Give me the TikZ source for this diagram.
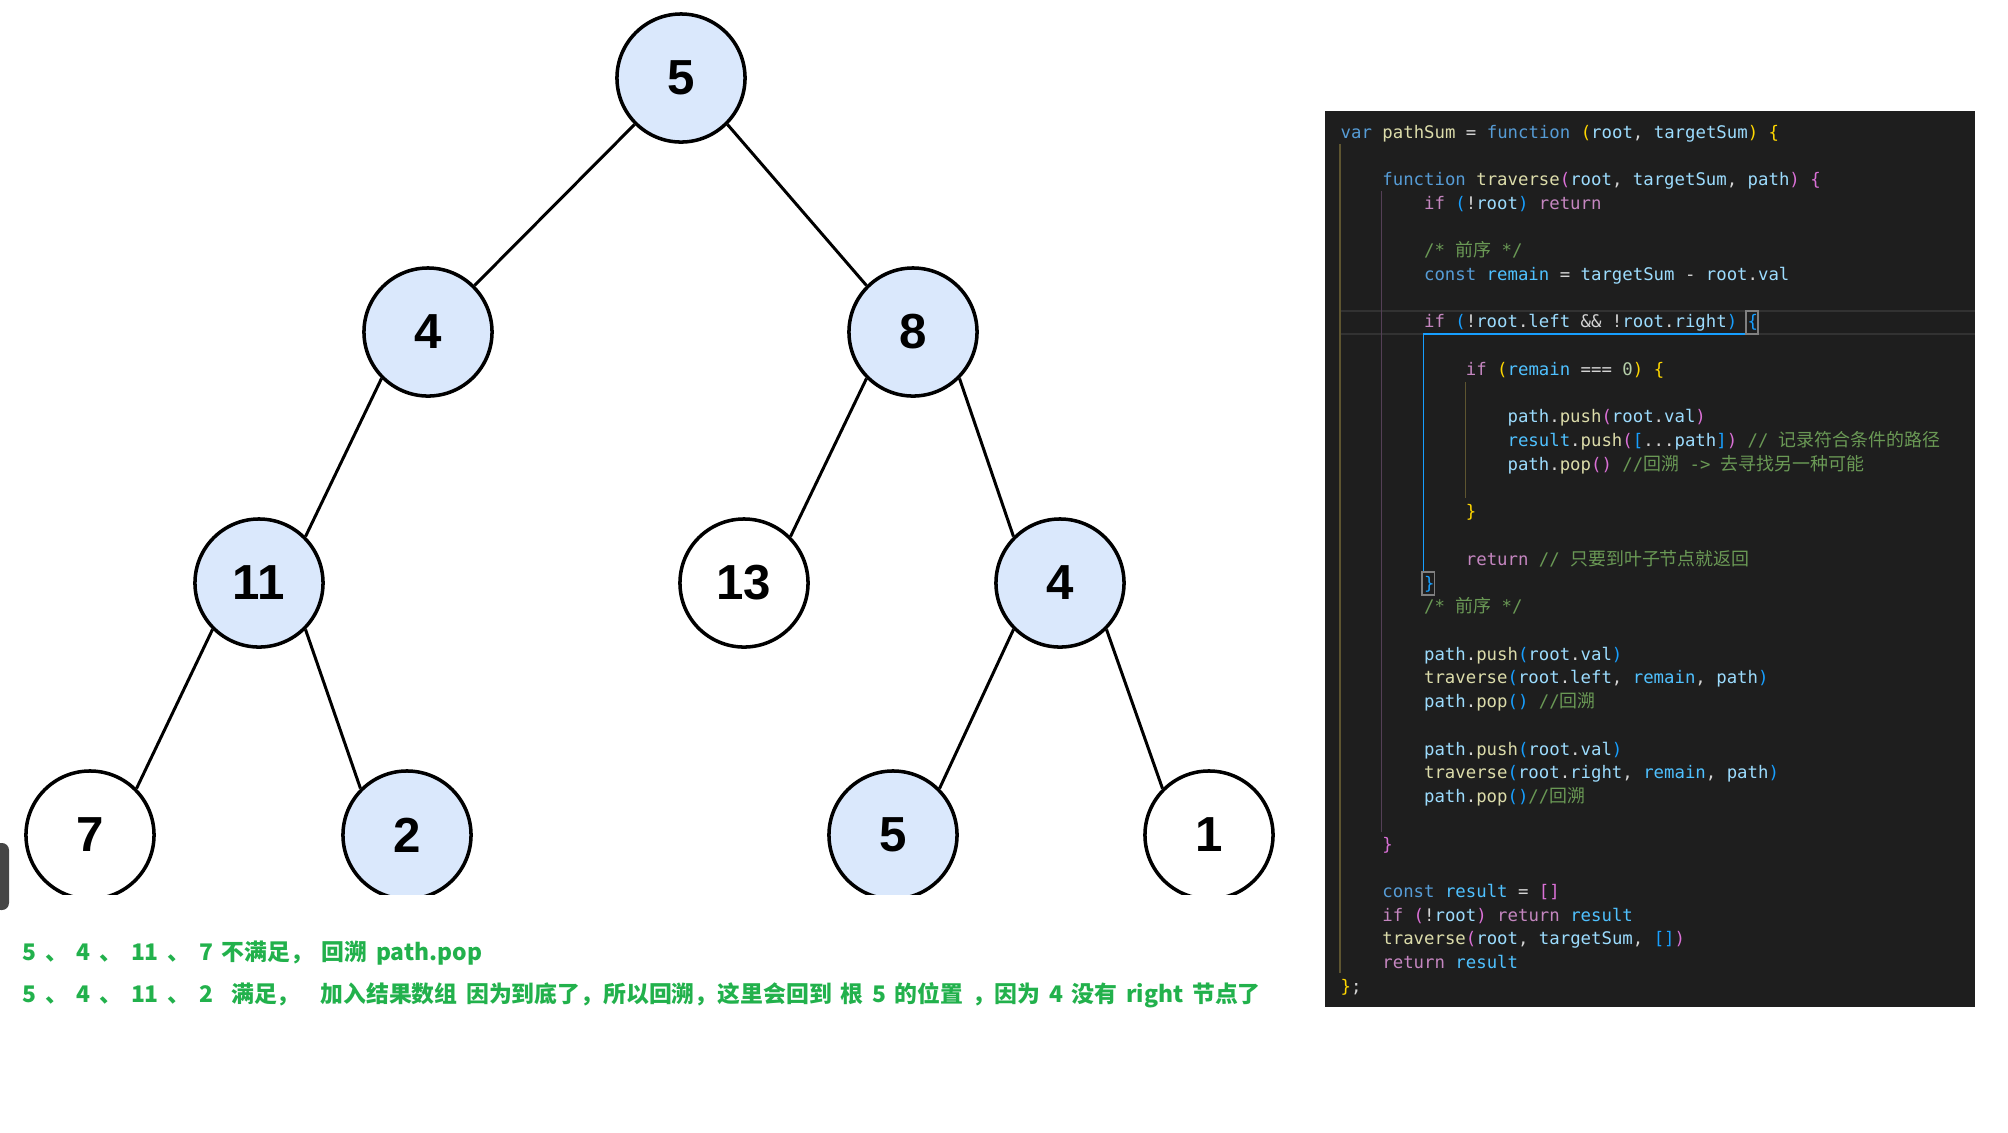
\documentclass[tikz,border=0pt]{standalone}
\usepackage{fontspec}
\usepackage{xcolor}
\usepackage{tikz}

\setmainfont{Liberation Sans}
\setmonofont{DejaVu Sans Mono}
\newfontfamily\cjk{Noto Sans CJK SC}

\definecolor{nodeblue}{HTML}{DAE8FC}
\definecolor{notegreen}{HTML}{22B14C}
\definecolor{tabgray}{HTML}{454545}
\definecolor{editorbg}{HTML}{1E1E1E}
\definecolor{codefg}{HTML}{D4D4D4}
\definecolor{kwblue}{HTML}{569CD6}
\definecolor{fnyellow}{HTML}{DCDCAA}
\definecolor{varblue}{HTML}{9CDCFE}
\definecolor{constblue}{HTML}{4FC1FF}
\definecolor{ctlpink}{HTML}{C586C0}
\definecolor{cmtgreen}{HTML}{6A9955}
\definecolor{numgreen}{HTML}{B5CEA8}
\definecolor{brgold}{HTML}{FFD700}
\definecolor{brpink}{HTML}{DA70D6}
\definecolor{brblue}{HTML}{179FFF}
\definecolor{guidegold}{HTML}{5E5530}
\definecolor{guidepurple}{HTML}{543F56}
\definecolor{curline}{HTML}{323232}

% syntax colours of the editor
\newcommand{\cKw}[1]{\textcolor{kwblue}{#1}}
\newcommand{\cFn}[1]{\textcolor{fnyellow}{#1}}
\newcommand{\cVar}[1]{\textcolor{varblue}{#1}}
\newcommand{\cConst}[1]{\textcolor{constblue}{#1}}
\newcommand{\cCtl}[1]{\textcolor{ctlpink}{#1}}
\newcommand{\cCmt}[1]{\textcolor{cmtgreen}{#1}}
\newcommand{\cNum}[1]{\textcolor{numgreen}{#1}}
\newcommand{\brA}[1]{\textcolor{brgold}{#1}}
\newcommand{\brB}[1]{\textcolor{brpink}{#1}}
\newcommand{\brC}[1]{\textcolor{brblue}{#1}}
\newcommand{\zh}[1]{{\cjk\fontsize{5.1}{6}\selectfont #1}}
\newcommand{\notefont}{\fontsize{6.5}{8}\selectfont\cjk\bfseries\spaceskip=0.38em\relax}

\begin{document}
\begin{tikzpicture}[x=0.01cm, y=-0.01cm,
    treenode/.style={draw, circle, line width=1pt, minimum size=1.28cm, inner sep=0pt,
        font=\fontsize{14}{14}\selectfont\bfseries},
    bluenode/.style={treenode, fill=nodeblue},
    whitenode/.style={treenode, fill=white},
    edge/.style={line width=0.85pt},
    codeline/.style={anchor=base west, inner sep=0pt, text=codefg,
        font=\fontsize{4.93}{6}\selectfont\ttfamily},
    guide/.style={line width=0.3pt},
    note/.style={anchor=base west, inner sep=0pt, text=notegreen, font=\notefont}]
    \useasboundingbox (0,0) rectangle (2008,1132);
    \fill[white] (0,0) rectangle (2008,1132);

    % tree, cut off at the bottom like the screenshot
    \begin{scope}
        \clip (0,0) rectangle (1320,894);
        \node[bluenode] (n5) at (681,78) {5};
        \node[bluenode] (n4) at (428,332) {4};
        \node[bluenode] (n8) at (913,332) {8};
        \node[bluenode] (n11) at (259,583) {11};
        \node[whitenode] (n13) at (744,583) {13};
        \node[bluenode] (n4b) at (1060,583) {4};
        \node[whitenode] (n7) at (90,835) {7};
        \node[bluenode] (n2) at (407,835) {2};
        \node[bluenode] (n5b) at (893,835) {5};
        \node[whitenode] (n1) at (1209,835) {1};
        \draw[edge] (n5.-135) -- (n4.45);
        \draw[edge] (n5.-45) -- (n8.135);
        \draw[edge] (n4.-135) -- (n11.45);
        \draw[edge] (n8.-135) -- (n13.45);
        \draw[edge] (n8.-45) -- (n4b.135);
        \draw[edge] (n11.-135) -- (n7.45);
        \draw[edge] (n11.-45) -- (n2.135);
        \draw[edge] (n4b.-135) -- (n5b.45);
        \draw[edge] (n4b.-45) -- (n1.135);
    \end{scope}
    \fill[tabgray, rounded corners=2pt] (-6,843) rectangle (9,910);

    % notes
    \node[note] (note1) at (22,960) {5 、 4 、 11 、 7 不满足， 回溯 path.pop};
    \node[note] (note2) at (22,1002) {5 、 4 、 11 、 2\hspace{0.8em}满足，\hspace{0.9em}加入结果数组 因为到底了，所以回溯，这里会回到 根 5 的位置 ，因为 4 没有 right 节点了};

    % editor panel
    \fill[editorbg] (1325,111) rectangle (1975,1007);
    \draw[curline, line width=0.4pt] (1340,311) -- (1975,311);
    \draw[curline, line width=0.4pt] (1340,334) -- (1975,334);
    \draw[guide, guidegold] (1340,144) -- (1340,973);
    \draw[guide, guidepurple] (1381.7,191) -- (1381.7,832);
    \draw[guide, guidegold] (1465.2,382) -- (1465.2,498);
    \draw[guide, brblue] (1746,334) -- (1423.4,334) -- (1423.4,572);
    \draw[guide, gray] (1746,311) rectangle (1758,334);
    \draw[guide, gray] (1422,572) rectangle (1434.5,595);

    \begin{scope}[shift={(0,2.5)}]
    \node[codeline] (c1) at (1340,135.6) {\cKw{var} \cFn{pathSum} = \cKw{function} \brA{(}\cVar{root}, \cVar{targetSum}\brA{)} \brA{\{}};
    \node[codeline] (c3) at (1381.7,183.1) {\cKw{function} \cFn{traverse}\brB{(}\cVar{root}, \cVar{targetSum}, \cVar{path}\brB{)} \brB{\{}};
    \node[codeline] (c4) at (1423.4,206.8) {\cCtl{if} \brC{(}!\cVar{root}\brC{)} \cCtl{return}};
    \node[codeline] (c6) at (1423.4,254.3) {\cCmt{/* \zh{前序} */}};
    \node[codeline] (c7) at (1423.4,278.0) {\cKw{const} \cConst{remain} = \cVar{targetSum} - \cVar{root}.\cVar{val}};
    \node[codeline] (c9) at (1423.4,325.4) {\cCtl{if} \brC{(}!\cVar{root}.\cVar{left} \&\& !\cVar{root}.\cVar{right}\brC{)} \brC{\{}};
    \node[codeline] (c11) at (1465.2,372.9) {\cCtl{if} \brA{(}\cConst{remain} === \cNum{0}\brA{)} \brA{\{}};
    \node[codeline] (c13) at (1506.9,420.4) {\cVar{path}.\cFn{push}\brB{(}\cVar{root}.\cVar{val}\brB{)}};
    \node[codeline] (c14) at (1506.9,444.1) {\cConst{result}.\cFn{push}\brB{(}\brC{[}...\cVar{path}\brC{]}\brB{)} \cCmt{// \zh{记录符合条件的路径}}};
    \node[codeline] (c15) at (1506.9,467.8) {\cVar{path}.\cFn{pop}\brB{()} \cCmt{//\zh{回溯} -> \zh{去寻找另一种可能}}};
    \node[codeline] (c17) at (1465.2,515.3) {\brA{\}}};
    \node[codeline] (c19) at (1465.2,562.7) {\cCtl{return} \cCmt{// \zh{只要到叶子节点就返回}}};
    \node[codeline] (c20) at (1423.4,586.5) {\brC{\}}};
    \node[codeline] (c21) at (1423.4,610.2) {\cCmt{/* \zh{前序} */}};
    \node[codeline] (c23) at (1423.4,657.7) {\cVar{path}.\cFn{push}\brC{(}\cVar{root}.\cVar{val}\brC{)}};
    \node[codeline] (c24) at (1423.4,681.4) {\cFn{traverse}\brC{(}\cVar{root}.\cVar{left}, \cConst{remain}, \cVar{path}\brC{)}};
    \node[codeline] (c25) at (1423.4,705.1) {\cVar{path}.\cFn{pop}\brC{()} \cCmt{//\zh{回溯}}};
    \node[codeline] (c27) at (1423.4,752.6) {\cVar{path}.\cFn{push}\brC{(}\cVar{root}.\cVar{val}\brC{)}};
    \node[codeline] (c28) at (1423.4,776.3) {\cFn{traverse}\brC{(}\cVar{root}.\cVar{right}, \cConst{remain}, \cVar{path}\brC{)}};
    \node[codeline] (c29) at (1423.4,800.0) {\cVar{path}.\cFn{pop}\brC{()}\cCmt{//\zh{回溯}}};
    \node[codeline] (c31) at (1381.7,847.5) {\brB{\}}};
    \node[codeline] (c33) at (1381.7,895.0) {\cKw{const} \cConst{result} = \brB{[]}};
    \node[codeline] (c34) at (1381.7,918.7) {\cCtl{if} \brB{(}!\cVar{root}\brB{)} \cCtl{return} \cConst{result}};
    \node[codeline] (c35) at (1381.7,942.4) {\cFn{traverse}\brB{(}\cVar{root}, \cVar{targetSum}, \brC{[]}\brB{)}};
    \node[codeline] (c36) at (1381.7,966.2) {\cCtl{return} \cConst{result}};
    \node[codeline] (c37) at (1340,989.9) {\brA{\}};};
    \end{scope}
\end{tikzpicture}
\end{document}
